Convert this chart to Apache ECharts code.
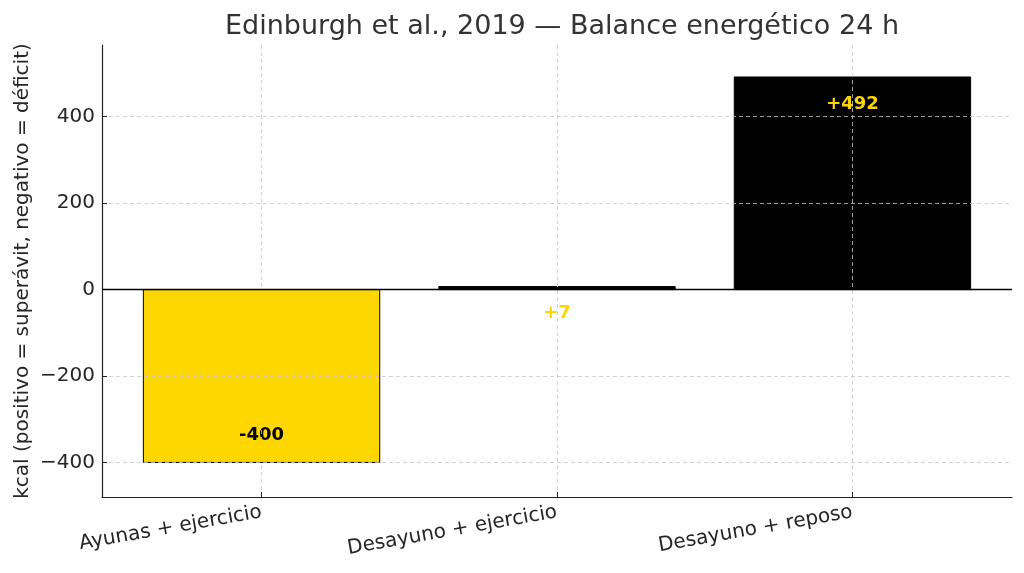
<!DOCTYPE html>
<html>
<head>
<meta charset="utf-8">
<script src="https://cdn.jsdelivr.net/npm/echarts@6/dist/echarts.min.js"></script>
<style>
  html, body { margin: 0; padding: 0; background: #fff; }
  #chart { width: 1024px; height: 573px; }
</style>
</head>
<body>
<div id="chart"></div>
<script>
// data
const categories = ['Ayunas + ejercicio', 'Desayuno + ejercicio', 'Desayuno + reposo'];
const balance = [-400, 7, 492];
const barColors = ['#FFD700', '#000000', '#000000'];
const labelColors = ['#000000', '#FFD700', '#FFD700'];
const yTicks = [-400, -200, 0, 200, 400];
const xTicks = [0, 1, 2];

const FONT = '"DejaVu Sans", sans-serif';
const fmtSigned = v => (v > 0 ? '+' : '') + v;
const fmtTick = v => (v < 0 ? '\u2212' + Math.abs(v) : String(v));

let myChart = echarts.init(document.getElementById('chart'));

let option = {
  animation: false,
  title: {
    text: 'Edinburgh et al., 2019 \u2014 Balance energ\u00e9tico 24 h',
    left: 557,
    textAlign: 'center',
    top: 8,
    textStyle: { fontFamily: FONT, fontSize: 27, fontWeight: 'normal', color: '#333' },
  },
  grid: { left: 102, right: 12, top: 45, bottom: 76, outerBoundsMode: 'none', containLabel: false },
  xAxis: {
    type: 'value',
    min: -0.54,
    max: 2.54,
    axisLine: { show: true, onZero: false, lineStyle: { color: '#222', width: 1.2 } },
    axisTick: { show: true, inside: true, length: 5, customValues: xTicks, lineStyle: { color: '#222' } },
    axisLabel: {
      customValues: xTicks,
      formatter: v => categories[Math.round(v)],
      rotate: 10,
      margin: 15,
      fontFamily: FONT,
      fontSize: 20,
      color: '#262626',
    },
    splitLine: { show: true, lineStyle: { color: '#c8c8c8', type: [4, 3], width: 0.8 } },
  },
  yAxis: {
    type: 'value',
    min: -480,
    max: 566,
    name: 'kcal (positivo = super\u00e1vit, negativo = d\u00e9ficit)',
    nameLocation: 'middle',
    nameRotate: 90,
    nameGap: 69,
    nameMoveOverlap: false,
    nameTextStyle: { fontFamily: FONT, fontSize: 20, color: '#262626' },
    axisLine: { show: true, onZero: false, lineStyle: { color: '#222', width: 1.2 } },
    axisTick: { show: true, inside: true, length: 5, customValues: yTicks, lineStyle: { color: '#222' } },
    axisLabel: {
      customValues: yTicks,
      formatter: fmtTick,
      margin: 7,
      fontFamily: FONT,
      fontSize: 20,
      color: '#262626',
    },
    splitLine: { show: true, lineStyle: { color: '#c8c8c8', type: [4, 3], width: 0.8 } },
  },
  series: [
    {
      type: 'custom',
      z: -1,
      data: balance.map((v, i) => [i, v]),
      renderItem: (params, api) => {
        let i = api.value(0);
        let v = api.value(1);
        let top = api.coord([i - 0.4, v]);
        let base = api.coord([i + 0.4, 0]);
        let x = top[0];
        let w = base[0] - top[0];
        let y = Math.min(top[1], base[1]);
        let h = Math.abs(base[1] - top[1]);
        // label sits just inside the bar end, toward zero
        let ly = v >= 0 ? top[1] + 27 : top[1] - 27;
        return {
          type: 'group',
          children: [
            {
              type: 'rect',
              shape: { x: x, y: y, width: w, height: h },
              style: { fill: barColors[i], stroke: '#000', lineWidth: 1 },
            },
            {
              type: 'text',
              z2: 10,
              style: {
                x: x + w / 2,
                y: ly,
                text: fmtSigned(v),
                fill: labelColors[i],
                font: 'bold 18px ' + FONT,
                align: 'center',
                verticalAlign: 'middle',
              },
            },
          ],
        };
      },
    },
    {
      // zero reference line
      type: 'line',
      data: [],
      markLine: {
        silent: true,
        symbol: 'none',
        label: { show: false },
        lineStyle: { color: '#000', type: 'solid', width: 1.3 },
        data: [{ yAxis: 0 }],
      },
    },
  ],
};

myChart.setOption(option);
</script>
</body>
</html>
